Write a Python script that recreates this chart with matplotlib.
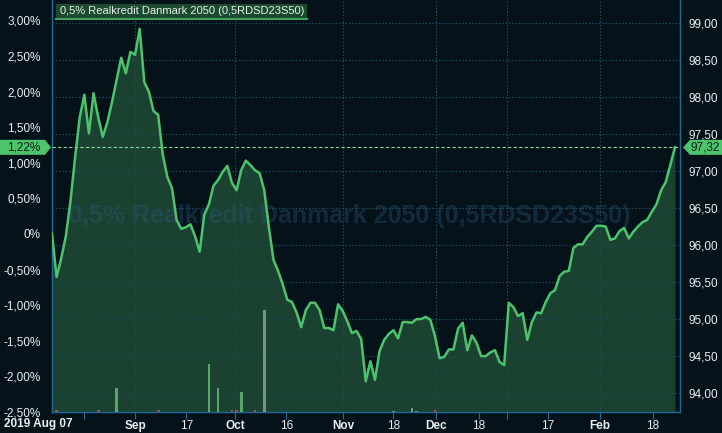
import matplotlib
matplotlib.use('Agg')
import matplotlib.pyplot as plt
from matplotlib.patches import Polygon
from matplotlib.lines import Line2D
from matplotlib.transforms import blended_transform_factory

# ---------------- data ----------------
title = "0,5% Realkredit Danmark 2050 (0,5RDSD23S50)"
start_label = "2019 Aug 07"

prices = [96.15, 95.57, 95.82, 96.12, 96.59, 97.18, 97.72, 98.03, 97.51, 98.05,
          97.73, 97.46, 97.66, 97.93, 98.23, 98.53, 98.32, 98.61, 98.57, 98.92,
          98.20, 98.07, 97.81, 97.76, 97.22, 96.92, 96.77, 96.34, 96.22, 96.24,
          96.28, 96.12, 95.91, 96.41, 96.55, 96.80, 96.88, 96.99, 97.07, 96.84,
          96.74, 97.01, 97.14, 97.08, 97.01, 96.97, 96.74, 96.24, 95.80, 95.65,
          95.47, 95.26, 95.23, 95.09, 94.89, 95.12, 95.22, 95.22, 95.12, 94.88,
          94.88, 94.85, 95.20, 95.11, 94.97, 94.81, 94.84, 94.73, 94.16, 94.43,
          94.18, 94.57, 94.72, 94.80, 94.85, 94.74, 94.96, 94.96, 94.95, 95.00,
          95.00, 95.03, 94.99, 94.77, 94.47, 94.49, 94.59, 94.59, 94.87, 94.95,
          94.58, 94.78, 94.68, 94.50, 94.50, 94.55, 94.58, 94.42, 94.38, 95.22,
          95.16, 95.04, 95.08, 94.72, 94.96, 95.09, 95.08, 95.23, 95.35, 95.39,
          95.58, 95.64, 95.65, 95.96, 96.01, 96.01, 96.11, 96.18, 96.26, 96.26,
          96.25, 96.07, 96.09, 96.19, 96.23, 96.09, 96.18, 96.25, 96.31, 96.34,
          96.45, 96.55, 96.74, 96.85, 97.08, 97.32]

vol_day = [1, 10, 14, 23, 34, 36, 39, 40, 41, 44, 46, 74, 78, 79, 83]
vol_amount = [0.15, 0.15, 2.0, 0.15, 4.0, 2.0, 0.15, 0.15, 1.7, 0.15, 8.5, 0.1, 0.35, 0.1, 0.15]
vol_dir = ['down', 'down', 'up', 'down', 'up', 'up', 'down', 'down', 'up', 'down', 'flat',
           'up', 'flat', 'up', 'down']

tick_days = [7, 18, 29.1, 39.65, 50.8, 63.05, 74, 83.2, 92.5, 98.5, 107.5, 118.7, 130.2]
tick_labels = ['', 'Sep', '17', 'Oct', '16', 'Nov', '18', 'Dec', '18', '', '17', 'Feb', '18']
month_days = [18, 39.65, 63.05, 83.2, 98.5, 118.7]

price_ticks = [94.0, 94.5, 95.0, 95.5, 96.0, 96.5, 97.0, 97.5, 98.0, 98.5, 99.0]
pct_ticks = [-2.5, -2.0, -1.5, -1.0, -0.5, 0.0, 0.5, 1.0, 1.5, 2.0, 2.5, 3.0]

# ---------------- style ----------------
BG = '#06121a'
FILL = '#1b4231'
LINE = '#4cc46c'
GRID = '#1b5266'
SPINE = '#1f6a96'
TXT = '#e8eef2'
FONT = 'Liberation Sans'

W, H = 722, 433
RECT = [52 / W, 21 / H, 628 / W, 412 / H]
fig = plt.figure(figsize=(W / 100, H / 100), dpi=100)
fig.patch.set_facecolor(BG)
ax = fig.add_axes(RECT)
ax.set_facecolor(BG)

x = list(range(len(prices)))
ymin, ymax = 93.745, 99.31
ax.set_xlim(0, 136.1)
ax.set_ylim(ymin, ymax)

for p in price_ticks:
    ax.axhline(p, color=GRID, lw=0.8, ls=(0, (1, 2)), zorder=1)
for d in month_days:
    ax.axvline(d, color=GRID, lw=0.8, ls=(0, (1, 2)), zorder=1)

ax.fill_between(x, prices, ymin, color=FILL, zorder=2, lw=0)

ax.text(0.473, 0.475, title, transform=ax.transAxes, ha='center', va='center',
        fontsize=18, fontweight='bold', family=FONT, color='#2a5a7a', alpha=0.36, zorder=3)

for p in price_ticks:
    ax.axhline(p, color=GRID, lw=0.8, ls=(0, (1, 2)), zorder=3, alpha=0.8)
for d in month_days:
    ax.axvline(d, color=GRID, lw=0.8, ls=(0, (1, 2)), zorder=3, alpha=0.8)

ax.plot(x, prices, color=LINE, lw=1.8, zorder=5, solid_joinstyle='round')

last = prices[-1]
base = prices[0]
ax.axhline(last, color='#7fd99a', lw=0.8, ls=(0, (3, 2)), zorder=6)

ax.spines['top'].set_visible(False)
for s in ['left', 'right', 'bottom']:
    ax.spines[s].set_color(SPINE)
    ax.spines[s].set_linewidth(1.0)

# volume (separate overlay axes)
axv = fig.add_axes(RECT)
axv.set_xlim(ax.get_xlim())
axv.set_ylim(0, 34.3)
axv.axis('off')
axv.patch.set_visible(False)
vcol = {'up': '#5aa66a', 'down': '#b04a4a', 'flat': '#76977e'}
axv.bar(vol_day, vol_amount, width=0.6, color=[vcol[d] for d in vol_dir], zorder=4)

# left percent axis
sec = ax.secondary_yaxis('left', functions=(lambda p: (p / base - 1) * 100,
                                            lambda q: base * (1 + q / 100)))
sec.set_yticks(pct_ticks)
sec.set_yticklabels(['0%' if q == 0 else f"{q:.2f}%".replace('.', ',') for q in pct_ticks])
sec.tick_params(axis='y', length=0, pad=8, labelsize=8.5, labelcolor=TXT)
sec.spines['left'].set_color(SPINE)
for lab in sec.get_yticklabels():
    lab.set_family(FONT)
    if lab.get_text() == '-2,50%':
        lab.set_va('center_baseline')

# right price axis
ax.set_yticks(price_ticks)
ax.set_yticklabels([f"{p:.2f}".replace('.', ',') for p in price_ticks])
ax.yaxis.tick_right()
ax.tick_params(axis='y', which='both', left=False, labelleft=False, right=True, labelright=True,
               length=0, pad=6, labelsize=8.5, labelcolor=TXT)
for lab in ax.get_yticklabels():
    lab.set_family(FONT)

# x axis
ax.set_xticks(tick_days)
ax.set_xticklabels(tick_labels)
ax.tick_params(axis='x', length=5, color=SPINE, pad=1.0, labelsize=8.5, labelcolor=TXT)
for lab in ax.get_xticklabels():
    lab.set_family(FONT)
    if lab.get_text() in ('Sep', 'Oct', 'Nov', 'Dec', 'Feb'):
        lab.set_fontweight('bold')
fig.text(4 / W, 1 - 424.5 / H, start_label, ha='left', va='center', fontsize=8.5,
         fontweight='bold', family=FONT, color=TXT)

# tags
trans = blended_transform_factory(fig.transFigure, ax.transData)
h = 7.5 / 74
lt = Polygon([(0, last + h), (45 / W, last + h), (51 / W, last), (45 / W, last - h), (0, last - h)],
             closed=True, transform=trans, facecolor=LINE, edgecolor='none', clip_on=False)
rt = Polygon([(683 / W, last), (690 / W, last + h), (1.0, last + h), (1.0, last - h), (690 / W, last - h)],
             closed=True, transform=trans, facecolor=LINE, edgecolor='none', clip_on=False)
fig.add_artist(lt)
fig.add_artist(rt)
pct_last = (last / base - 1) * 100
fig.text(24 / W, last, f"{pct_last:.2f}%".replace('.', ','), transform=trans, ha='center', va='center',
         fontsize=8.5, family=FONT, color='#0b1a10')
fig.text(705 / W, last, f"{last:.2f}".replace('.', ','), transform=trans, ha='center', va='center',
         fontsize=8.5, family=FONT, color='#0b1a10')

# legend box
fig.patches.append(Polygon([(56 / W, 1 - 4 / H), (307 / W, 1 - 4 / H), (307 / W, 1 - 19 / H), (56 / W, 1 - 19 / H)],
                           closed=True, transform=fig.transFigure, facecolor='#1b4a2e', edgecolor='none'))
fig.add_artist(Line2D([56 / W, 307 / W], [1 - 19 / H, 1 - 19 / H], transform=fig.transFigure,
                      color='#3f9f5f', lw=1.5))
fig.text(60 / W, 1 - 11.5 / H, title, ha='left', va='center', fontsize=8.0, family=FONT, color=TXT)

fig.savefig('out.png', dpi=100, facecolor=BG)
